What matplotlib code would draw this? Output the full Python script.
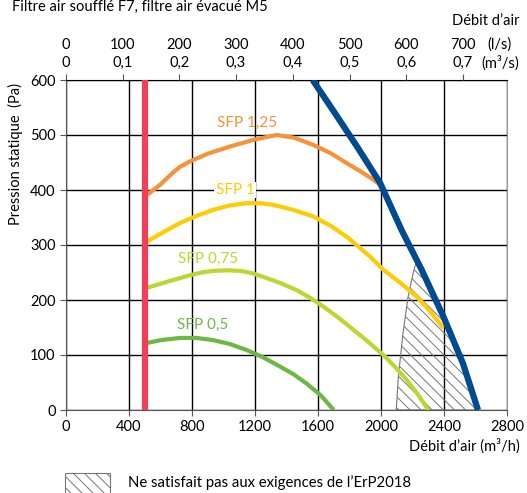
import matplotlib
matplotlib.use("Agg")
import matplotlib.pyplot as plt
from matplotlib.patches import Polygon, Rectangle

plt.rcParams['font.family'] = ['Lato', 'DejaVu Sans']
plt.rcParams['hatch.linewidth'] = 0.7
plt.rcParams['hatch.color'] = '#777777'

# courbes (m3/h, Pa)
sfp125_x = [500, 600, 680, 724, 787, 900, 1041, 1200, 1338, 1450, 1570, 1680, 1782, 1880, 1951, 2000]
sfp125_y = [388, 410, 432, 442, 452, 466, 479, 492, 500, 495, 482, 467, 449, 432, 419, 408]
sfp1_x = [500, 610, 724, 830, 935, 1040, 1147, 1230, 1316, 1440, 1570, 1680, 1782, 1845, 1930, 2015,
          2120, 2227, 2310, 2396]
sfp1_y = [304, 322, 340, 353, 364, 372, 376, 376, 373, 364, 352, 335, 315, 300, 279, 255,
          232, 206, 180, 149]
sfp075_x = [500, 640, 787, 860, 935, 1020, 1105, 1180, 1253, 1360, 1464, 1550, 1634, 1720, 1803,
            1910, 2015, 2090, 2163, 2230, 2300]
sfp075_y = [221, 233, 245, 250, 253, 254, 253, 249, 242, 231, 218, 204, 188, 170, 151,
            126, 100, 78, 55, 30, 0]
sfp05_x = [500, 600, 724, 830, 935, 1040, 1147, 1250, 1359, 1450, 1528, 1620, 1700]
sfp05_y = [121, 127, 131, 131, 127, 120, 109, 96, 79, 64, 48, 26, 0]
limit_x = [1566, 1700, 1850, 1994, 2131, 2258, 2396, 2520, 2616]
limit_y = [600, 543, 478, 413, 327, 255, 170, 85, 0]
min_flow = 500

# zone ErP2018 non satisfaite
erp_left_x = [2097, 2110, 2140, 2172, 2205, 2226]
erp_left_y = [0, 60, 140, 206, 250, 272]
erp_right_x = [2258, 2396, 2520, 2616]
erp_right_y = [255, 170, 85, 0]

labels = ["SFP 1,25", "SFP 1", "SFP 0,75", "SFP 0,5"]
label_pos = [(1149, 522), (1073, 400), (902, 275), (870, 154)]
colors = ['#F7923A', '#FFCB05', '#BDD630', '#6DB843']

fig = plt.figure(figsize=(5.27, 4.93), dpi=100)
ax = fig.add_axes([66 / 527, 1 - 410 / 493, 441 / 527, 330 / 493])
ax.set_xlim(0, 2800)
ax.set_ylim(0, 600)

ax.set_xticks(range(0, 2801, 400))
ax.set_yticks(range(0, 601, 100))
ax.grid(True, color='black', linewidth=1)
ax.tick_params(labelsize=10.5, length=4, color='#555555')

for s in ['left', 'bottom']:
    ax.spines[s].set_color('#555555')
ax.spines['right'].set_color('#999999')
ax.spines['top'].set_color('black')

# zone hachurée
poly = list(zip(erp_left_x, erp_left_y)) + list(zip(erp_right_x, erp_right_y))
ax.add_patch(Polygon(poly, closed=True, facecolor='none', edgecolor='#777777',
                     hatch='\\\\\\', linewidth=0.8, zorder=2))

curves = [(sfp125_x, sfp125_y), (sfp1_x, sfp1_y), (sfp075_x, sfp075_y), (sfp05_x, sfp05_y)]
for (cx, cy), c in zip(curves, colors):
    ax.plot(cx, cy, color=c, linewidth=3, solid_capstyle='butt', solid_joinstyle='round', zorder=3)

ax.plot(limit_x, limit_y, color='#004A8F', linewidth=4.5, solid_capstyle='butt',
        solid_joinstyle='round', zorder=4)
ax.plot([min_flow, min_flow], [0, 600], color='#EE4059', linewidth=4.5,
        solid_capstyle='butt', zorder=5)

for lab, (lx, ly), c in zip(labels, label_pos, colors):
    t = ax.text(lx, ly, lab, color=c, fontsize=11, ha='center', va='center', zorder=6)
    if lab == "SFP 1":
        t.set_bbox(dict(facecolor='white', edgecolor='none', pad=1))

# axe du haut (l/s et m3/s)
top = ax.twiny()
top.set_xlim(0, 2800)
ls_vals = list(range(0, 701, 100))
top.set_xticks([v * 3.6 for v in ls_vals])
top.set_xticklabels([f"{v}\n{v / 1000:.1f}".replace('.', ',').replace('\n0,0', '\n0') for v in ls_vals],
                    linespacing=1.4)
top.tick_params(labelsize=10.5, length=4, color='#555555', pad=3)
for s in top.spines.values():
    s.set_visible(False)

fig.text(500 / 527, 1 - 45 / 493, "(l/s)", fontsize=10.5, ha='center', va='center')
fig.text(500 / 527, 1 - 63 / 493, "(m³/s)", fontsize=10.5, ha='center', va='center')
fig.text(520 / 527, 1 - 21 / 493, "Débit d’air", fontsize=10.5, ha='right', va='center')
fig.text(12 / 527, 1 - 7 / 493, "Filtre air soufflé F7, filtre air évacué M5", fontsize=10.5,
         ha='left', va='center')
fig.text(520 / 527, 1 - 446 / 493, "Débit d’air (m³/h)", fontsize=10.5, ha='right', va='center')
fig.text(15 / 527, 1 - 83 / 493, "Pression statique  (Pa)", fontsize=10.5, rotation=90,
         ha='center', va='top')

# légende
fig.patches.append(Rectangle((65 / 527, 1 - 496 / 493), 45 / 527, 23 / 493,
                             transform=fig.transFigure, facecolor='white',
                             edgecolor='#777777', hatch='\\\\\\', linewidth=0.8))
fig.text(128 / 527, 1 - 483 / 493, "Ne satisfait pas aux exigences de l’ErP2018",
         fontsize=10.7, ha='left', va='center')

fig.savefig("out.png", dpi=100)
